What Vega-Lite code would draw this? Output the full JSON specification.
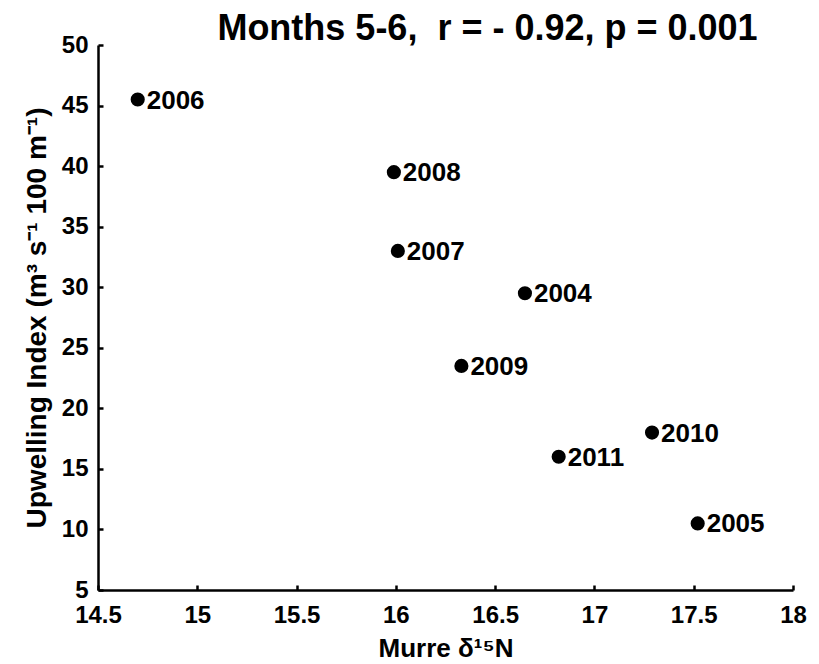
{
  "$schema": "https://vega.github.io/schema/vega-lite/v6.json",
  "autosize": "none",
  "width": 695,
  "height": 545,
  "padding": {"left": 98, "top": 45, "right": 26, "bottom": 74},
  "background": "white",
  "config": {"view": {"stroke": null}, "font": "Liberation Sans"},
  "title": {"text": "Months 5-6,\u00a0 r = - 0.92, p = 0.001", "font": "Liberation Sans", "fontSize": 36, "fontWeight": "bold", "color": "black", "anchor": "middle", "dx": 42, "offset": -15},
  "data": {"values": [
    {"d15N": 14.70, "upwelling": 45.5, "year": "2006"},
    {"d15N": 15.99, "upwelling": 39.5, "year": "2008"},
    {"d15N": 16.01, "upwelling": 33.0, "year": "2007"},
    {"d15N": 16.65, "upwelling": 29.5, "year": "2004"},
    {"d15N": 16.33, "upwelling": 23.5, "year": "2009"},
    {"d15N": 17.29, "upwelling": 18.0, "year": "2010"},
    {"d15N": 16.82, "upwelling": 16.0, "year": "2011"},
    {"d15N": 17.52, "upwelling": 10.5, "year": "2005"}
  ]},
  "encoding": {
    "x": {"field": "d15N", "type": "quantitative", "scale": {"domain": [14.5, 18], "nice": false, "zero": false},
      "axis": {"title": "Murre δ¹⁵N", "values": [14.5, 15, 15.5, 16, 16.5, 17, 17.5, 18], "format": "~g", "grid": false,
        "domainColor": "black", "domainWidth": 2.5, "tickColor": "black", "tickWidth": 2.5, "tickSize": -5,
        "labelFont": "Liberation Sans", "labelFontSize": 24, "labelFontWeight": "bold", "labelColor": "black", "labelPadding": 18,
        "titleFont": "Liberation Sans", "titleFontSize": 26, "titleFontWeight": "bold", "titleColor": "black", "titlePadding": 8, "labelFlush": false}},
    "y": {"field": "upwelling", "type": "quantitative", "scale": {"domain": [5, 50], "nice": false, "zero": false},
      "axis": {"title": "Upwelling Index (m³ s⁻¹ 100 m⁻¹)", "values": [5, 10, 15, 20, 25, 30, 35, 40, 45, 50], "grid": false,
        "domainColor": "black", "domainWidth": 2.5, "tickColor": "black", "tickWidth": 2.5, "tickSize": -5,
        "labelFont": "Liberation Sans", "labelFontSize": 24, "labelFontWeight": "bold", "labelColor": "black", "labelPadding": 15,
        "titleFont": "Liberation Sans", "titleFontSize": 28, "titleFontWeight": "bold", "titleColor": "black", "titlePadding": 10, "labelFlush": false}}
  },
  "layer": [
    {"mark": {"type": "point", "filled": true, "color": "black", "size": 200, "opacity": 1}},
    {"mark": {"type": "text", "align": "left", "baseline": "middle", "dx": 9, "dy": 1, "fontSize": 26, "fontWeight": "bold", "font": "Liberation Sans", "color": "black"},
     "encoding": {"text": {"field": "year"}}}
  ]
}
